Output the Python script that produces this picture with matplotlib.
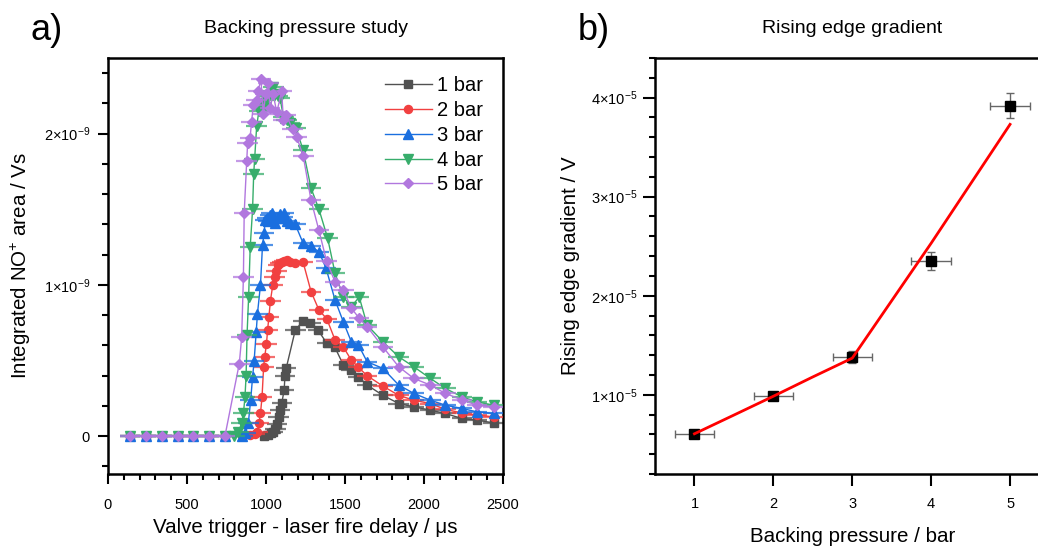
import numpy as np
import matplotlib
matplotlib.use("Agg")
import matplotlib.pyplot as plt
from matplotlib.ticker import MultipleLocator, FixedLocator, FuncFormatter

plt.rcParams["font.family"] = ["Liberation Sans", "DejaVu Sans"]
plt.rcParams["mathtext.fontset"] = "custom"
plt.rcParams["mathtext.rm"] = "Liberation Sans"
plt.rcParams["mathtext.it"] = "Liberation Sans:italic"
plt.rcParams["mathtext.bf"] = "Liberation Sans:bold"

# ---------------- Panel a: NO+ signal vs. valve-laser delay ----------------
baseline_delay = [140, 240, 340, 440, 540, 640, 740]

delay_1bar = baseline_delay + [990, 1010, 1030, 1045, 1060, 1070, 1080, 1090, 1100, 1115,
                               1120, 1128, 1185, 1235, 1280, 1330, 1385, 1435, 1490, 1540,
                               1585, 1640, 1740, 1840, 1935, 2040, 2135, 2240, 2335, 2440]
signal_1bar = [0] * 7 + [0.0, 0.01, 0.02, 0.03, 0.05, 0.08, 0.13, 0.17, 0.22, 0.305,
                         0.40, 0.45, 0.70, 0.763, 0.75, 0.70, 0.614, 0.59, 0.47, 0.437,
                         0.393, 0.338, 0.27, 0.216, 0.194, 0.172, 0.15, 0.117, 0.106, 0.088]

delay_2bar = baseline_delay + [850, 900, 930, 945, 955, 965, 975, 985, 992, 1003,
                               1010, 1018, 1028, 1043, 1055, 1065, 1075, 1090, 1100, 1115,
                               1130, 1150, 1185, 1235, 1285, 1335, 1385, 1437, 1489, 1540,
                               1585, 1640, 1740, 1840, 1935, 2040, 2135, 2240, 2335, 2440]
signal_2bar = [0] * 7 + [0.0, 0.005, 0.015, 0.03, 0.084, 0.15, 0.26, 0.46, 0.525, 0.61,
                         0.70, 0.785, 0.895, 1.0, 1.055, 1.09, 1.13, 1.144, 1.15, 1.16,
                         1.166, 1.15, 1.144, 1.15, 0.956, 0.834, 0.775, 0.636, 0.59, 0.503,
                         0.455, 0.40, 0.331, 0.27, 0.238, 0.216, 0.177, 0.154, 0.139, 0.128]

delay_3bar = baseline_delay + [850, 870, 888, 903, 915, 925, 938, 946, 965, 978,
                               988, 995, 1005, 1015, 1025, 1035, 1045, 1060, 1075, 1090,
                               1105, 1115, 1130, 1150, 1185, 1235, 1285, 1335, 1380, 1437,
                               1489, 1540, 1585, 1640, 1740, 1840, 1935, 2040, 2135, 2240,
                               2335, 2440]
signal_3bar = [0] * 7 + [0.0, 0.02, 0.084, 0.24, 0.39, 0.50, 0.69, 0.81, 1.0, 1.265,
                         1.34, 1.43, 1.44, 1.42, 1.46, 1.475, 1.44, 1.41, 1.44, 1.47,
                         1.45, 1.475, 1.42, 1.41, 1.40, 1.276, 1.254, 1.22, 1.11, 0.90,
                         0.757, 0.624, 0.603, 0.492, 0.448, 0.338, 0.283, 0.238, 0.205, 0.183,
                         0.161, 0.15]

delay_4bar = baseline_delay + [800, 825, 846, 857, 867, 874, 880, 890, 900, 915,
                               922, 928, 941, 955, 970, 985, 1000, 1015, 1030, 1046,
                               1060, 1075, 1089, 1110, 1130, 1152, 1190, 1235, 1285, 1335,
                               1390, 1437, 1489, 1540, 1590, 1640, 1740, 1840, 1935, 2040,
                               2135, 2240, 2335, 2440]
signal_4bar = [0] * 7 + [0.0, 0.03, 0.084, 0.15, 0.26, 0.40, 0.67, 0.92, 1.25, 1.50,
                         1.73, 1.83, 2.05, 2.15, 2.20, 2.17, 2.22, 2.25, 2.28, 2.31,
                         2.26, 2.25, 2.236, 2.11, 2.09, 2.07, 2.04, 1.89, 1.64, 1.50,
                         1.31, 1.077, 0.92, 0.856, 0.92, 0.735, 0.624, 0.525, 0.459, 0.382,
                         0.316, 0.26, 0.227, 0.205]

delay_5bar = baseline_delay + [831, 846, 857, 862, 878, 884, 899, 909, 920, 941,
                               950, 968, 983, 997, 1004, 1015, 1025, 1046, 1068, 1099,
                               1110, 1128, 1169, 1194, 1236, 1285, 1335, 1384, 1437, 1489,
                               1540, 1590, 1640, 1740, 1840, 1935, 2040, 2135, 2240, 2335,
                               2440]
signal_5bar = [0] * 7 + [0.48, 0.654, 1.05, 1.475, 1.82, 1.94, 1.97, 2.08, 2.19, 2.225,
                         2.28, 2.36, 2.13, 2.26, 2.27, 2.335, 2.17, 2.26, 2.14, 2.28,
                         2.09, 2.12, 2.03, 1.98, 1.85, 1.56, 1.36, 1.155, 1.02, 0.967,
                         0.846, 0.78, 0.724, 0.59, 0.459, 0.382, 0.338, 0.283, 0.24, 0.205,
                         0.194]

delay_error = 65  # us, half-width of the horizontal error bars

series_labels = ["1 bar", "2 bar", "3 bar", "4 bar", "5 bar"]
series_colors = ["#515151", "#F14040", "#1A6FDF", "#37AD6B", "#B177DE"]
series_markers = ["s", "o", "^", "v", "D"]
series_msize = [5.5, 5.8, 6.5, 6.5, 5.2]

# ---------------- Panel b: rising edge gradient ----------------
pressure = [1, 2, 3, 4, 5]
pressure_err = [0.25, 0.25, 0.25, 0.25, 0.25]
gradient = [0.606e-5, 0.985e-5, 1.38e-5, 2.35e-5, 3.92e-5]
gradient_err = [0.02e-5, 0.03e-5, 0.06e-5, 0.09e-5, 0.13e-5]
fit_pressure = [1, 1.5, 2, 2.5, 3, 3.5, 4, 4.5, 5]
fit_gradient = [0.606e-5, 0.795e-5, 0.985e-5, 1.18e-5, 1.37e-5, 1.95e-5, 2.53e-5, 3.13e-5, 3.73e-5]

# ---------------- figure ----------------
W, H = 1038, 547
fig = plt.figure(figsize=(W / 100, H / 100), dpi=100)


def px_axes(left, top, right, bottom):
    return [left / W, 1 - bottom / H, (right - left) / W, (bottom - top) / H]


ax1 = fig.add_axes(px_axes(108, 58, 503, 474))
ax2 = fig.add_axes(px_axes(655, 58, 1049.5, 474))


def sci_label(exp):
    def fmt(v, pos):
        if abs(v) < 1e-30:
            return "0"
        k = v / 10.0 ** exp
        return r"$%d{\times}10^{%d}$" % (round(k), exp)
    return FuncFormatter(fmt)


LABEL_FS = 14.8
TITLE_FS = 14
TICK_FS = 10.5

delays = [delay_1bar, delay_2bar, delay_3bar, delay_4bar, delay_5bar]
signals = [signal_1bar, signal_2bar, signal_3bar, signal_4bar, signal_5bar]

for i, (x, y) in enumerate(zip(delays, signals)):
    x = np.asarray(x, float)
    y = np.asarray(y, float) * 1e-9
    c = series_colors[i]
    ax1.errorbar(x, y, xerr=delay_error, fmt="none", ecolor=c, alpha=0.75,
                 elinewidth=1.6, capsize=0, zorder=2 + i)
    ax1.plot(x, y, color=c, lw=1.0, marker=series_markers[i],
             ms=series_msize[i], mec=c, mfc=c, label=series_labels[i], zorder=2.5 + i)

ax1.set_xlim(0, 2500)
ax1.set_ylim(-0.25e-9, 2.5e-9)
ax1.xaxis.set_major_locator(MultipleLocator(500))
ax1.xaxis.set_minor_locator(MultipleLocator(100))
ax1.yaxis.set_major_locator(FixedLocator([0, 1e-9, 2e-9]))
ax1.yaxis.set_minor_locator(MultipleLocator(0.2e-9))
ax1.yaxis.set_major_formatter(sci_label(-9))
ax1.tick_params(which="both", direction="out", width=1.5, labelsize=TICK_FS)
ax1.tick_params(which="major", length=7)
ax1.tick_params(axis="x", which="major", pad=10)
ax1.tick_params(axis="y", which="major", pad=6)
ax1.tick_params(which="minor", length=4.3)
ax1.set_title("Backing pressure study", fontsize=TITLE_FS, pad=18)
ax1.set_xlabel("Valve trigger - laser fire delay / μs", fontsize=LABEL_FS)
ax1.set_ylabel(r"Integrated NO$^{+}$ area / Vs", fontsize=LABEL_FS)
ax1.xaxis.set_label_coords(0.5, -0.105)
ax1.yaxis.set_label_coords(-0.19, 0.5)
ax1.legend(loc="upper right", bbox_to_anchor=(0.97, 0.976), frameon=False,
           fontsize=14.5, handlelength=2.35, labelspacing=0.29, handletextpad=0.25,
           borderaxespad=0.0)

ax2.errorbar(pressure, gradient, xerr=pressure_err, yerr=gradient_err, fmt="none",
             ecolor="#666666", elinewidth=1.0, capsize=3, capthick=1.0, zorder=2)
ax2.plot(pressure, gradient, ls="none", marker="s", ms=6.5, color="black", zorder=3)
ax2.plot(fit_pressure, fit_gradient, color="#FF0000", lw=2.0, zorder=4)

ax2.set_xlim(0.5, 5.5)
ax2.set_ylim(0.2e-5, 4.4e-5)
ax2.xaxis.set_major_locator(FixedLocator(pressure))
ax2.yaxis.set_major_locator(FixedLocator([1e-5, 2e-5, 3e-5, 4e-5]))
ax2.yaxis.set_minor_locator(MultipleLocator(0.2e-5))
ax2.yaxis.set_major_formatter(sci_label(-5))
ax2.tick_params(which="both", direction="out", width=1.5, labelsize=TICK_FS)
ax2.tick_params(which="major", length=8.6)
ax2.tick_params(axis="x", which="major", pad=8)
ax2.tick_params(axis="y", which="major", pad=4)
ax2.tick_params(which="minor", length=4.3)
ax2.set_title("Rising edge gradient", fontsize=TITLE_FS, pad=18)
ax2.set_xlabel("Backing pressure / bar", fontsize=LABEL_FS)
ax2.set_ylabel("Rising edge gradient / V", fontsize=LABEL_FS)
ax2.xaxis.set_label_coords(0.5, -0.128)
ax2.yaxis.set_label_coords(-0.19, 0.5)

for ax in (ax1, ax2):
    for s in ax.spines.values():
        s.set_linewidth(1.8)

fig.text(30 / W, 1 - 31 / H, "a)", fontsize=26, va="center", ha="left")
fig.text(578 / W, 1 - 31 / H, "b)", fontsize=26, va="center", ha="left")

fig.savefig("out.png", dpi=100)
